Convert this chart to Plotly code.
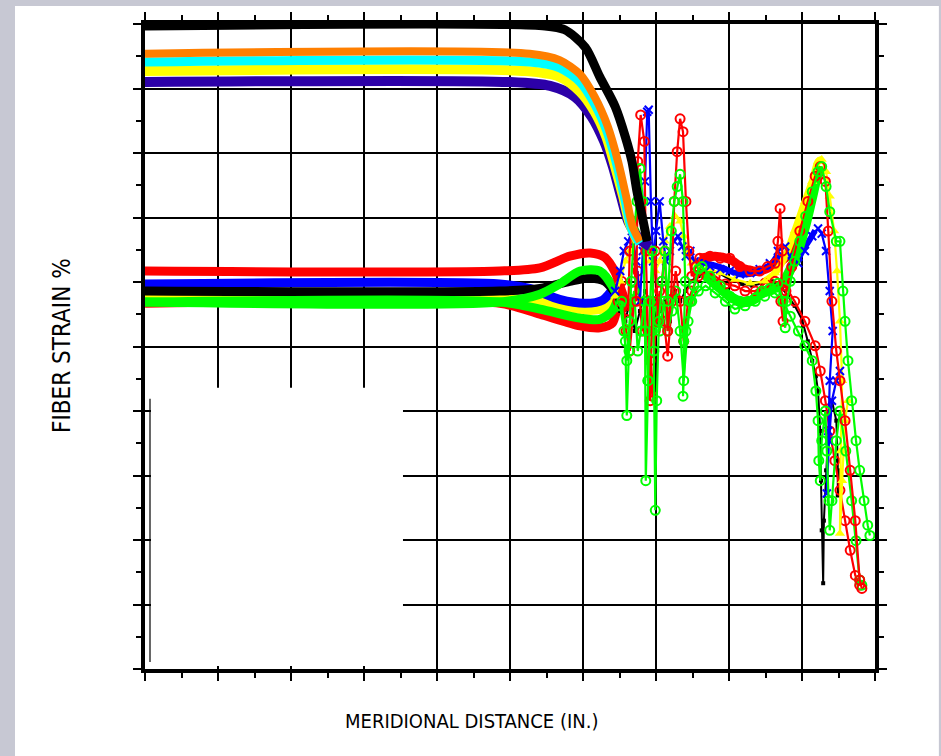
import plotly.graph_objects as go

# ---------------- data (x: meridional distance, y: fiber strain, grid units) -------------
# upper group (smooth bands)
blk_up_x = [0, 5.48, 5.75, 6.03, 6.23, 6.44, 6.58, 6.67, 6.74, 6.81, 6.88]
blk_up_y = [9.97, 9.97, 9.91, 9.64, 9.18, 8.72, 8.25, 7.87, 7.40, 7.02, 6.63]
org_x = [0, 5.27, 5.68, 5.96, 6.16, 6.34, 6.48, 6.59, 6.68, 6.78]
org_y = [9.54, 9.54, 9.44, 9.22, 8.87, 8.41, 7.87, 7.33, 6.86, 6.63]
cyn_x = [0, 5.27, 5.68, 5.96, 6.16, 6.33, 6.47, 6.58, 6.67, 6.78]
cyn_y = [9.41, 9.41, 9.32, 9.10, 8.76, 8.33, 7.79, 7.25, 6.81, 6.60]
yel_up_x = [0, 5.21, 5.68, 5.96, 6.16, 6.32, 6.44, 6.55, 6.64, 6.75]
yel_up_y = [9.27, 9.27, 9.18, 8.95, 8.64, 8.25, 7.79, 7.33, 6.91, 6.63]
ind_x = [0, 5.0, 5.55, 5.89, 6.12, 6.29, 6.41, 6.52, 6.62, 6.78, 6.92]
ind_y = [9.10, 9.10, 9.04, 8.87, 8.56, 8.18, 7.79, 7.33, 6.94, 6.66, 6.55]

# lower group (smooth bands)
red_lo_x = [0, 4.86, 5.41, 5.96, 6.23, 6.40, 6.48]
red_lo_y = [5.67, 5.67, 5.50, 5.32, 5.29, 5.36, 5.70]
yel_lo_x = [0, 4.86, 5.41, 5.82, 6.10, 6.30, 6.44]
yel_lo_y = [5.75, 5.75, 5.70, 5.60, 5.56, 5.60, 5.78]
blu_lo_x = [0, 4.86, 5.27, 5.68, 6.03, 6.27, 6.44]
blu_lo_y = [5.97, 5.97, 5.90, 5.73, 5.67, 5.72, 5.94]
blk_lo_x = [0, 4.86, 5.41, 5.82, 6.10, 6.30, 6.44]
blk_lo_y = [5.86, 5.86, 5.90, 6.01, 6.06, 6.01, 5.83]
grn_lo_x = [0, 4.86, 5.41, 5.96, 6.23, 6.40, 6.51]
grn_lo_y = [5.69, 5.69, 5.58, 5.44, 5.42, 5.55, 5.86]
grn_up_x = [0, 4.86, 5.41, 5.68, 5.96, 6.23, 6.44, 6.53]
grn_up_y = [5.69, 5.69, 5.81, 5.97, 6.17, 6.17, 5.86, 5.55]
red_up_x = [0, 4.86, 5.41, 5.82, 6.10, 6.30, 6.44, 6.53, 6.62]
red_up_y = [6.17, 6.17, 6.22, 6.40, 6.45, 6.38, 6.15, 5.86, 5.55]

# valley / ramp sections between the two disturbed zones (dense marker bands)
grn_v_x = [7.58, 7.74, 7.88, 8.01, 8.15, 8.29, 8.42, 8.56, 8.70, 8.90, 9.04, 9.14, 9.22, 9.27]
grn_v_y = [6.20, 6.04, 5.90, 5.78, 5.70, 5.70, 5.81, 5.89, 5.94, 6.34, 6.85, 7.32, 7.68, 7.74]
red_v_x = [7.60, 7.81, 8.01, 8.22, 8.42, 8.63, 8.77, 8.90, 9.04, 9.14, 9.22]
red_v_y = [6.37, 6.40, 6.35, 6.20, 6.17, 6.27, 6.37, 6.55, 7.01, 7.40, 7.71]
yel_v_x = [8.49, 8.63, 8.77, 8.90, 9.04, 9.14, 9.22, 9.27]
yel_v_y = [6.01, 6.14, 6.40, 6.79, 7.25, 7.56, 7.87, 7.90]
blu_v_x = [7.60, 7.88, 8.15, 8.36, 8.56, 8.70, 8.86, 9.04, 9.18]
blu_v_y = [6.32, 6.23, 6.12, 6.14, 6.26, 6.40, 6.40, 6.55, 6.80]

# noisy tails (measured points)
red_n1_x = [6.62, 6.64, 6.68, 6.73, 6.75, 6.79, 6.84, 6.86, 6.89, 6.92, 6.95, 6.99, 7.03, 7.08, 7.12,
            7.16, 7.21, 7.25, 7.29, 7.33, 7.37, 7.41, 7.45, 7.49, 7.55, 7.60, 7.74, 7.88, 8.01, 8.15,
            8.29, 8.42, 8.53, 8.63, 8.67, 8.70, 8.73, 8.71, 8.74, 8.78, 8.86, 8.97, 9.08, 9.18, 9.25,
            9.32, 9.36, 9.41, 9.47, 9.52, 9.59, 9.66, 9.73, 9.79, 9.82]
red_n1_y = [5.55, 6.48, 6.94, 5.70, 7.87, 8.59, 8.18, 6.48, 5.24, 4.16, 5.70, 6.48, 5.39, 6.01, 6.48,
            5.24, 5.86, 7.25, 8.02, 8.53, 8.33, 7.25, 6.48, 6.09, 6.24, 6.37, 6.40, 6.37, 6.37, 6.24,
            6.17, 6.17, 6.24, 6.29, 6.63, 7.14, 6.48, 5.70, 5.39, 5.86, 6.24, 6.79, 7.25, 7.64, 7.79,
            7.56, 6.79, 5.70, 4.93, 4.47, 3.85, 3.08, 2.30, 1.38, 1.25]
red_n2_x = [6.48, 6.53, 6.59, 6.64, 6.70, 6.75, 6.81, 6.86, 6.92, 6.95, 6.99, 7.05, 7.11, 7.16, 7.22,
            7.27, 7.33, 7.38, 7.44, 7.49, 7.58, 7.67, 7.81, 7.95, 8.08, 8.22, 8.36, 8.49, 8.63, 8.77,
            8.90, 9.04, 9.18, 9.25, 9.32, 9.38, 9.45, 9.52, 9.59, 9.66, 9.73, 9.79]
red_n2_y = [5.70, 6.01, 5.24, 4.93, 5.70, 6.17, 5.24, 5.70, 4.78, 4.23, 5.24, 5.86, 5.39, 4.85, 5.70,
            6.17, 5.70, 5.08, 5.70, 5.86, 6.09, 6.20, 6.09, 5.97, 5.94, 5.86, 5.86, 5.98, 6.01, 5.94,
            5.70, 5.39, 5.01, 4.62, 4.16, 3.69, 3.23, 2.77, 2.30, 1.84, 1.45, 1.30]
blu_n_x = [6.44, 6.51, 6.56, 6.62, 6.67, 6.73, 6.78, 6.82, 6.85, 6.88, 6.90, 6.93, 6.96, 7.00, 7.05,
           7.10, 7.14, 7.19, 7.25, 7.30, 7.36, 7.41, 7.47, 7.53, 7.60, 7.74, 7.88, 8.01, 8.15, 8.29,
           8.42, 8.56, 8.67, 8.77, 8.86, 8.95, 9.04, 9.14, 9.22, 9.27, 9.33, 9.38, 9.42, 9.38, 9.36,
           9.34, 9.37, 9.41, 9.47, 9.52]
blu_n_y = [5.86, 6.17, 6.48, 6.63, 6.79, 6.32, 5.70, 6.48, 7.56, 8.64, 8.67, 7.25, 6.32, 6.79, 7.25,
           6.63, 6.32, 6.48, 6.63, 6.71, 6.55, 6.40, 6.48, 6.32, 6.29, 6.24, 6.20, 6.17, 6.12, 6.14,
           6.20, 6.29, 6.48, 6.55, 6.32, 6.29, 6.48, 6.71, 6.83, 6.75, 6.48, 5.86, 5.24, 4.47, 3.69,
           2.72, 3.54, 4.16, 4.47, 4.62]
grn_n1_x = [6.53, 6.58, 6.60, 6.63, 6.66, 6.70, 6.74, 6.78, 6.82, 6.85, 6.86, 6.89, 6.92, 6.95, 6.97,
            6.99, 7.01, 7.04, 7.08, 7.12, 7.16, 7.21, 7.25, 7.29, 7.33, 7.37, 7.40, 7.38, 7.37, 7.41,
            7.47, 7.52, 7.58, 7.63, 7.74, 7.88, 8.01, 8.15, 8.26, 8.36, 8.45, 8.56, 8.67, 8.74, 8.77,
            8.79, 8.84, 8.90, 8.97, 9.05, 9.14, 9.22, 9.27, 9.33, 9.38, 9.47, 9.52, 9.56, 9.59, 9.63,
            9.68, 9.74, 9.79, 9.85, 9.90, 9.93]
grn_n1_y = [5.70, 5.08, 3.93, 4.93, 6.01, 6.79, 7.25, 7.76, 7.25, 5.24, 2.92, 4.47, 5.70, 6.48, 4.93,
            2.46, 4.16, 5.39, 6.01, 6.48, 5.70, 6.79, 7.25, 7.48, 7.67, 7.25, 6.01, 5.08, 4.23, 5.24,
            5.70, 5.94, 6.20, 6.24, 6.09, 5.94, 5.78, 5.70, 5.70, 5.75, 5.86, 5.90, 5.98, 5.70, 5.29,
            5.70, 6.01, 6.32, 6.63, 7.02, 7.40, 7.71, 7.79, 7.48, 7.09, 6.63, 6.63, 5.86, 5.39, 4.78,
            4.16, 3.54, 3.08, 2.61, 2.23, 2.07]
grn_n2_x = [6.51, 6.56, 6.60, 6.64, 6.70, 6.75, 6.79, 6.84, 6.89, 6.95, 7.00, 7.05, 7.11, 7.16, 7.22,
            7.27, 7.33, 7.38, 7.44, 7.49, 7.58, 7.68, 7.81, 7.95, 8.08, 8.22, 8.36, 8.49, 8.63, 8.74,
            8.84, 8.95, 9.04, 9.14, 9.19, 9.22, 9.23, 9.25, 9.27, 9.32, 9.34, 9.37, 9.38, 9.41, 9.47,
            9.52, 9.60, 9.68, 9.74, 9.79, 9.82]
grn_n2_y = [5.63, 5.24, 4.78, 5.39, 5.86, 4.93, 5.24, 5.70, 4.47, 5.24, 5.70, 5.24, 5.70, 5.24, 5.55,
            5.86, 5.24, 4.47, 5.39, 5.70, 5.86, 5.94, 5.83, 5.70, 5.58, 5.63, 5.70, 5.78, 5.83, 5.70,
            5.47, 5.24, 5.01, 4.78, 4.31, 3.85, 3.23, 2.92, 3.54, 4.00, 3.38, 2.61, 2.15, 2.61, 3.54,
            4.00, 3.38, 2.61, 1.99, 1.38, 1.30]
yel_n_x = [6.44, 6.51, 6.58, 6.64, 6.71, 6.78, 6.85, 6.92, 6.99, 7.05, 7.12, 7.19, 7.26, 7.33, 7.38,
           7.44, 7.49, 7.58, 7.74, 7.88, 8.08, 8.29, 8.49, 8.63, 8.77, 8.90, 9.04, 9.14, 9.22, 9.27,
           9.33, 9.38, 9.44, 9.48, 9.52, 9.55, 9.53, 9.52, 9.55, 9.59, 9.63]
yel_n_y = [5.78, 6.01, 6.32, 6.48, 6.63, 6.71, 6.55, 6.32, 6.17, 6.32, 6.63, 6.86, 7.02, 6.94, 6.71,
           6.48, 6.29, 6.24, 6.20, 6.14, 6.04, 5.98, 6.01, 6.14, 6.40, 6.79, 7.25, 7.56, 7.87, 7.90,
           7.71, 7.33, 6.79, 6.17, 5.39, 4.47, 3.38, 2.10, 2.92, 3.85, 4.16]
blk_n_x = [6.44, 6.51, 6.58, 6.64, 6.71, 6.78, 6.85, 6.92, 6.99, 7.05, 7.12, 7.19, 7.26, 7.33, 7.40,
           7.47, 7.58, 7.71, 7.85, 8.01, 8.18, 8.32, 8.45, 8.59, 8.70, 8.81, 8.90, 9.00, 9.08, 9.14,
           9.19, 9.22, 9.25, 9.26, 9.27, 9.29, 9.30, 9.33, 9.36, 9.41, 9.47, 9.49, 9.49, 9.52]
blk_n_y = [5.78, 5.55, 5.39, 5.70, 5.24, 5.55, 5.86, 5.70, 5.24, 5.55, 5.70, 5.39, 5.86, 5.70, 5.86,
           6.01, 6.09, 6.20, 6.14, 6.04, 5.97, 5.94, 5.98, 6.01, 5.94, 5.78, 5.63, 5.42, 5.08, 4.78,
           4.54, 4.31, 3.69, 2.92, 2.15, 1.33, 2.30, 3.08, 3.69, 4.16, 3.85, 3.23, 2.69, 3.08]

BLACK = "#000000"
ORANGE = "#ff7f00"
CYAN = "#00ffff"
YELLOW = "#ffff00"
INDIGO = "#2c00a8"
RED = "#ff0000"
BLUE = "#0000ff"
GREEN = "#00ff00"

fig = go.Figure()


def band(x, y, color, w=9):
    fig.add_trace(go.Scatter(x=x, y=y, mode="lines",
                             line=dict(color=color, width=w, shape="spline", smoothing=0.8),
                             hoverinfo="skip", showlegend=False))


def noisy(x, y, color, symbol, size=9, lw=2.2, mlw=2):
    fig.add_trace(go.Scatter(x=x, y=y, mode="lines+markers",
                             line=dict(color=color, width=lw),
                             marker=dict(symbol=symbol, size=size, color=color,
                                         line=dict(color=color, width=mlw)),
                             hoverinfo="skip", showlegend=False))


# lower group bands
band(red_lo_x, red_lo_y, RED)
band(yel_lo_x, yel_lo_y, YELLOW)
band(blu_lo_x, blu_lo_y, BLUE)
band(blk_lo_x, blk_lo_y, BLACK)
band(grn_lo_x, grn_lo_y, GREEN)
band(grn_up_x, grn_up_y, GREEN)
band(red_up_x, red_up_y, RED)

# valley bands
band(red_v_x, red_v_y, RED, 9)
band(blu_v_x, blu_v_y, BLUE, 6)
band(grn_v_x, grn_v_y, GREEN, 10)
band(yel_v_x, yel_v_y, YELLOW, 7)

# noisy tails
noisy(blk_n_x, blk_n_y, BLACK, "square", size=4, lw=2, mlw=0)
noisy(red_n2_x, red_n2_y, RED, "circle-open", size=9)
noisy(yel_n_x, yel_n_y, YELLOW, "triangle-up", size=9, mlw=0)
noisy(blu_n_x, blu_n_y, BLUE, "x-thin-open", size=8)
noisy(grn_n2_x, grn_n2_y, GREEN, "circle-open", size=9)
noisy(red_n1_x, red_n1_y, RED, "circle-open", size=9)
noisy(grn_n1_x, grn_n1_y, GREEN, "circle-open", size=9)

# upper group bands
band(ind_x, ind_y, INDIGO, 10)
band(yel_up_x, yel_up_y, YELLOW, 10)
band(cyn_x, cyn_y, CYAN, 9)
band(org_x, org_y, ORANGE, 8)
band(blk_up_x, blk_up_y, BLACK, 9)

axis_common = dict(
    range=[0, 10], dtick=1, tick0=0,
    showgrid=True, gridcolor="black", gridwidth=1.6,
    showline=True, linecolor="black", linewidth=4, mirror="allticks",
    ticks="outside", ticklen=8, tickwidth=1.6, tickcolor="black",
    showticklabels=False, zeroline=False, fixedrange=True,
    minor=dict(dtick=0.5, tick0=0, ticks="outside", ticklen=5, tickwidth=1.6,
               tickcolor="black", showgrid=False),
)

gray = "#c7c8d3"
shapes = [
    # slide background strips
    dict(type="rect", xref="paper", yref="paper", x0=-0.2, x1=-0.1781, y0=-0.14, y1=1.04,
         fillcolor=gray, line=dict(width=0), layer="above"),
    dict(type="rect", xref="paper", yref="paper", x0=-0.2, x1=1.1, y0=1.0278, y1=1.04,
         fillcolor=gray, line=dict(width=0), layer="above"),
    dict(type="rect", xref="paper", yref="paper", x0=1.0875, x1=1.1, y0=-0.14, y1=1.04,
         fillcolor=gray, line=dict(width=0), layer="above"),
    # blanked-out legend box
    dict(type="rect", xref="paper", yref="paper", x0=0.0082, x1=0.3534, y0=0.0046, y1=0.4359,
         fillcolor="white", line=dict(width=0), layer="above"),
    dict(type="line", xref="paper", yref="paper", x0=0.00685, x1=0.00685, y0=0.0108, y1=0.4189,
         line=dict(color="black", width=1.2), layer="above"),
]

font_family = "DejaVu Sans Condensed, Liberation Sans, sans-serif"
annotations = [
    dict(text="FIBER STRAIN %", xref="paper", yref="paper", x=-0.1137, y=0.5023,
         textangle=-90, showarrow=False, xanchor="center", yanchor="middle",
         font=dict(family=font_family, size=24, color="black")),
    dict(text="MERIDIONAL DISTANCE (IN.)", xref="paper", yref="paper", x=0.4466, y=-0.0804,
         showarrow=False, xanchor="center", yanchor="middle",
         font=dict(family=font_family, size=20, color="black")),
]

fig.update_layout(
    width=941, height=756,
    margin=dict(l=145, r=66, t=22, b=87),
    paper_bgcolor="white", plot_bgcolor="white",
    xaxis=axis_common, yaxis=axis_common,
    shapes=shapes, annotations=annotations,
    showlegend=False,
)

fig.write_html("out.html", config={"displayModeBar": False})
